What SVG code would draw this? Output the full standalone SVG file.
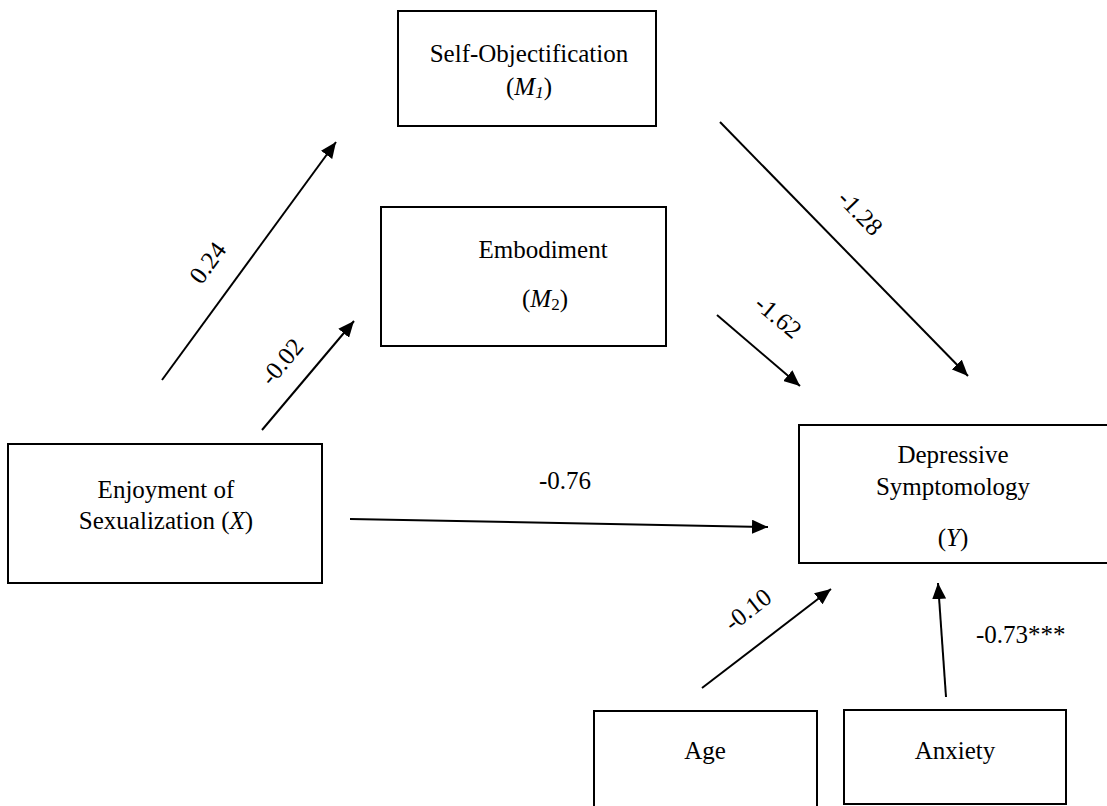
<svg xmlns="http://www.w3.org/2000/svg" width="1107" height="806" viewBox="0 0 1107 806">
<defs>
<style>
.box{fill:#fff;stroke:#000;stroke-width:2}
.c{stroke:#000;stroke-width:2;fill:none;marker-end:url(#ah)}
</style>
<marker id="ah" markerUnits="userSpaceOnUse" markerWidth="18" markerHeight="14" refX="16" refY="7" orient="auto">
<path d="M0,0 L16,7 L0,14 Z" fill="#000"/>
</marker>
</defs>
<rect width="1107" height="806" fill="#fff"/>
<g font-family="Liberation Serif, serif" font-size="25" fill="#000" text-anchor="middle">
<g id="connectors">
<line class="c" x1="162" y1="380" x2="336" y2="142"/>
<line class="c" x1="262" y1="430" x2="354" y2="321"/>
<line class="c" x1="720" y1="122" x2="968" y2="376"/>
<line class="c" x1="717" y1="315" x2="800" y2="386"/>
<line class="c" x1="350" y1="519" x2="768" y2="527"/>
<line class="c" x1="702" y1="688" x2="831" y2="589"/>
<line class="c" x1="946" y1="697" x2="938" y2="583"/>
<text transform="translate(208,263) rotate(-54)" y="8">0.24</text>
<text transform="translate(282,362) rotate(-50)" y="8">-0.02</text>
<text transform="translate(860,213) rotate(46)" y="8">-1.28</text>
<text transform="translate(778,317) rotate(40)" y="8">-1.62</text>
<text x="565" y="489">-0.76</text>
<text transform="translate(748,610) rotate(-38)" y="8">-0.10</text>
<text x="976" y="643" text-anchor="start">-0.73***</text>
</g>
<g id="node-m1">
<rect class="box" x="398" y="11" width="258" height="115"/>
<text x="529" y="62">Self-Objectification</text>
<text x="529" y="95">(<tspan font-style="italic">M</tspan><tspan font-style="italic" font-size="17" dy="3">1</tspan><tspan dy="-3">)</tspan></text>
</g>
<g id="node-m2">
<rect class="box" x="381" y="207" width="285" height="139"/>
<text x="543" y="258">Embodiment</text>
<text x="545" y="307">(<tspan font-style="italic">M</tspan><tspan font-size="17" dy="3">2</tspan><tspan dy="-3">)</tspan></text>
</g>
<g id="node-x">
<rect class="box" x="8" y="444" width="314" height="139"/>
<text x="166" y="498">Enjoyment of</text>
<text x="166" y="529">Sexualization (<tspan font-style="italic">X</tspan>)</text>
</g>
<g id="node-y">
<rect class="box" x="799" y="425" width="320" height="138"/>
<text x="953" y="463">Depressive</text>
<text x="953" y="495">Symptomology</text>
<text x="953" y="546">(<tspan font-style="italic">Y</tspan>)</text>
</g>
<g id="node-age">
<rect class="box" x="594" y="711" width="223" height="110"/>
<text x="705" y="759">Age</text>
</g>
<g id="node-anxiety">
<rect class="box" x="844" y="710" width="222" height="94"/>
<text x="955" y="759">Anxiety</text>
</g>
</g>
</svg>
